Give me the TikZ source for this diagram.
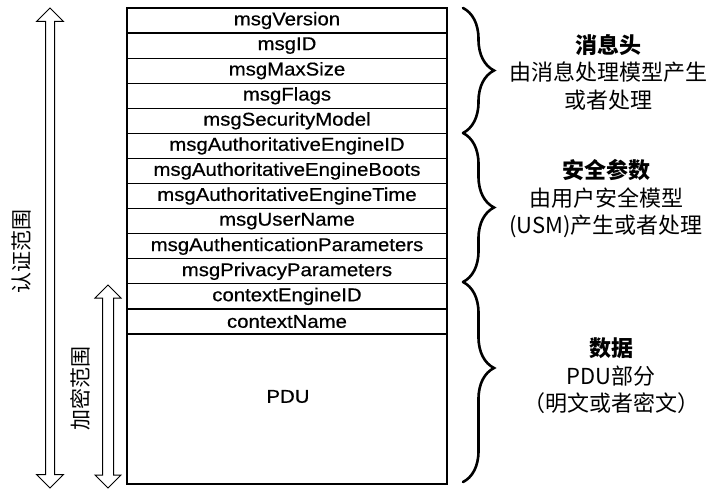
\documentclass[tikz,border=0pt]{standalone}
\usepackage{fontspec}
\newfontfamily\fieldfont{Liberation Sans}[FakeStretch=1.1, FakeBold=0.6]
\newfontfamily\cjk{Noto Sans CJK SC}
\usetikzlibrary{shapes.arrows,decorations.pathreplacing}

\tikzset{
  field/.style={draw, line width=1.2pt, minimum width=320pt, minimum height=25.08pt,
    inner sep=0pt, font=\fieldfont\fontsize{18.5}{20}\selectfont},
  rangearrow/.style={double arrow, draw, line width=1pt, fill=white, rotate=90,
    inner xsep=0pt, double arrow head indent=0pt},
  rangelabel/.style={rotate=90, inner sep=0pt, font=\cjk\fontsize{21}{24}\selectfont},
  groupbrace/.style={decorate, line width=2.6pt, line cap=round},
  grouptext/.style={align=center, inner sep=0pt, font=\cjk\fontsize{22}{27.5}\selectfont}
}

\begin{document}
\begin{tikzpicture}[x=1pt, y=-1pt]
\useasboundingbox (0,0) rectangle (712,492);

% header, security and scoped-PDU fields, one row each
\foreach \t [count=\i] in {msgVersion, msgID, msgMaxSize, msgFlags, msgSecurityModel,
    msgAuthoritativeEngineID, msgAuthoritativeEngineBoots, msgAuthoritativeEngineTime,
    msgUserName, msgAuthenticationParameters, msgPrivacyParameters,
    contextEngineID, contextName}
  \node[field] (r\i) at (287, {8 + 25.08*(\i - 0.5)}) {\t};

% PDU block
\node[field, minimum height=150pt] (pdu) at (287, 409) {};
\node[inner sep=0pt, font=\fieldfont\fontsize{18.5}{20}\selectfont] (pdutext) at (288, 396.5) {PDU};

% authentication and encryption ranges
\node[rangearrow, minimum height=480pt, inner ysep=4pt,
      double arrow head extend=9pt] (auth) at (50, 248) {};
\node[rangearrow, minimum height=203pt, inner ysep=5pt,
      double arrow head extend=7.5pt] (enc) at (108, 386.5) {};
\node[rangelabel] (authlabel) at (22, 251) {认证范围};
\node[rangelabel] (enclabel) at (80, 388) {加密范围};

% braces grouping the fields
\coordinate (b0) at (463, 8);
\coordinate (b1) at (463, 133);
\coordinate (b2) at (463, 282);
\coordinate (b3) at (463, 482);
\draw[groupbrace, decoration={brace, amplitude=31pt}] (b0) -- (b1);
\draw[groupbrace, decoration={brace, amplitude=31pt}] (b1) -- (b2);
\draw[groupbrace, decoration={brace, amplitude=31pt, aspect=0.43}] (b2) -- (b3);

% group descriptions
\node[grouptext] (hdr) at (608, 72) {{\bfseries 消息头}\\由消息处理模型产生\\或者处理};
\node[grouptext] (sec) at (606, 199) {{\bfseries 安全参数}\\由用户安全模型\\(USM)产生或者处理};
\node[grouptext] (data) at (611, 376) {{\bfseries 数据}\\PDU部分\\（明文或者密文）};
\end{tikzpicture}
\end{document}
